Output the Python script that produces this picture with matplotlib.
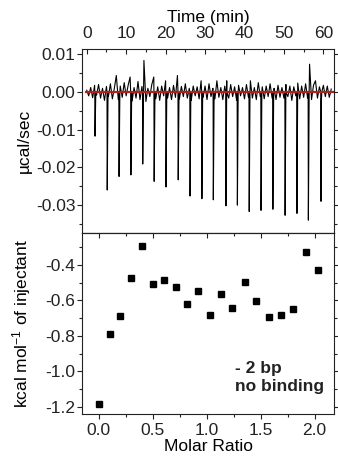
import numpy as np
import matplotlib
matplotlib.use('Agg')
import matplotlib.pyplot as plt
from matplotlib.ticker import MultipleLocator, FormatStrFormatter

plt.rcParams['font.family'] = ['Liberation Sans', 'DejaVu Sans']
plt.rcParams['mathtext.fontset'] = 'custom'
plt.rcParams['mathtext.rm'] = 'Liberation Sans'
plt.rcParams['mathtext.it'] = 'Liberation Sans'
plt.rcParams['axes.unicode_minus'] = False

# raw ITC trace (µcal/sec), baseline noise every 0.5 min, in units of 1e-3
step = 0.5
noise = [0.5, -1.0, 1.2, -1.5, 1.8, -0.8, 2.0, -1.6, 1.0, -2.2,
         1.5, -1.2, 2.2, -1.8, 1.0, 4.4, -2.0, 1.6, -1.4, 2.5,
         -1.0, 1.8, 4.0, -2.4, 1.2, -1.6, 2.8, -2.0, 1.5, 8.4,
         -2.5, 1.0, -1.2, 2.0, 4.0, -1.8, 1.4, -2.2, 1.6, -1.0,
         3.0, -1.6, 1.2, -2.0, 1.8, -1.4, 4.4, -1.8, 1.5, -1.2,
         2.2, -1.6, 1.0, -2.2, 1.6, -1.0, 1.4, -1.8, 3.0, -1.4,
         1.6, -2.0, 2.2, -1.2, 1.0, -1.8, 3.0, -1.4, 1.2, -2.0,
         1.6, 3.0, -1.6, 2.0, -1.2, 1.4, -2.2, 1.8, -1.0, 1.2,
         -1.8, 2.0, -1.4, 3.0, -1.6, 1.2, -2.0, 2.5, -1.2, 1.4,
         -1.8, 1.6, -1.2, 2.2, -1.6, 1.0, -2.0, 1.8, -1.4, 1.2,
         -1.6, 2.0, -1.2, 1.6, -2.2, 1.4, -1.0, 2.4, -1.8, 1.6,
         -1.4, 2.2, -1.6, 7.4, -2.0, 1.8, 3.0, -1.6, 1.4, -2.2,
         1.8, -1.2, 1.6, -1.4, 0.8]

# injection times (min) and peak heats (µcal/sec)
inj_t = [2.1, 5.2, 8.2, 11.2, 14.2, 17.1, 20.1, 23.2, 26.2, 29.2,
         32.1, 35.3, 38.2, 41.2, 44.2, 47.2, 50.3, 53.3, 56.2, 59.4]
inj_h = [-0.0117, -0.0260, -0.0224, -0.0220, -0.0191, -0.0237, -0.0252, -0.0233, -0.0276, -0.0283,
         -0.0286, -0.0302, -0.0300, -0.0317, -0.0314, -0.0311, -0.0327, -0.0322, -0.0340, -0.0290]

# integrated heats
molar_ratio = [0.003, 0.102, 0.200, 0.303, 0.404, 0.506, 0.608, 0.713, 0.818, 0.923,
               1.028, 1.133, 1.238, 1.355, 1.460, 1.577, 1.685, 1.800, 1.917, 2.034]
heat = [-1.185, -0.790, -0.688, -0.475, -0.291, -0.507, -0.485, -0.526, -0.622, -0.545,
        -0.681, -0.566, -0.645, -0.498, -0.603, -0.692, -0.681, -0.651, -0.327, -0.426]


def style(ax):
    for s in ax.spines.values():
        s.set_linewidth(0.8)
        s.set_color('#222222')
    ax.tick_params(which='both', direction='out', colors='#222222', labelsize=12.5, width=0.8)
    ax.tick_params(which='major', length=3.6)
    ax.tick_params(which='minor', length=2.2)
    ax.tick_params(axis='y', which='both', pad=1)


def main():
    t_noise = np.arange(len(noise)) * step
    y_noise = np.array(noise) * 1e-3
    it = np.array(inj_t)
    t_all = np.concatenate([t_noise, it - 0.06, it, it + 0.2])
    y_all = np.concatenate([y_noise, np.zeros(len(it)), np.array(inj_h), np.zeros(len(it))])
    order = np.argsort(t_all)

    fig = plt.figure(figsize=(3.38, 4.63), dpi=100)
    ax1 = fig.add_axes([0.2426, 0.4968, 0.7456, 0.3963])
    ax2 = fig.add_axes([0.2426, 0.1052, 0.7456, 0.3916])

    ax1.plot(t_all[order], y_all[order], color='black', lw=0.8)
    ax1.plot([-0.2, 62.5], [0, 0], color='#b02020', lw=1.6)
    ax1.set_xlim(-1.2, 62.7)
    ax1.set_ylim(-0.0374, 0.0113)
    style(ax1)
    ax1.xaxis.tick_top()
    ax1.xaxis.set_label_position('top')
    ax1.xaxis.set_major_locator(MultipleLocator(10))
    ax1.xaxis.set_minor_locator(MultipleLocator(5))
    ax1.tick_params(axis='x', which='both', direction='in', bottom=False, top=True, pad=6)
    ax1.set_xlabel('Time (min)', fontsize=12.5, labelpad=3)
    ax1.yaxis.set_major_locator(MultipleLocator(0.01))
    ax1.yaxis.set_minor_locator(MultipleLocator(0.005))
    ax1.yaxis.set_major_formatter(FormatStrFormatter('%.2f'))
    ax1.tick_params(axis='y', which='both', right=True)
    ax1.set_ylabel('µcal/sec', fontsize=12.5)
    ax1.yaxis.set_label_coords(-0.2, 0.5)

    ax2.plot(molar_ratio, heat, 's', color='black', markersize=4.5)
    ax2.set_xlim(-0.155, 2.18)
    ax2.set_ylim(-1.243, -0.219)
    style(ax2)
    ax2.xaxis.set_major_locator(MultipleLocator(0.5))
    ax2.xaxis.set_minor_locator(MultipleLocator(0.25))
    ax2.xaxis.set_major_formatter(FormatStrFormatter('%.1f'))
    ax2.tick_params(axis='x', which='both', pad=2.5)
    ax2.yaxis.set_major_locator(MultipleLocator(0.2))
    ax2.yaxis.set_minor_locator(MultipleLocator(0.1))
    ax2.yaxis.set_major_formatter(FormatStrFormatter('%.1f'))
    ax2.tick_params(axis='y', which='both', right=True)
    top = ax2.secondary_xaxis('top')
    top.xaxis.set_major_locator(MultipleLocator(0.5))
    top.xaxis.set_minor_locator(MultipleLocator(0.25))
    top.tick_params(which='both', direction='in', labeltop=False, colors='#222222', width=0.8)
    top.tick_params(which='major', length=3.6)
    top.tick_params(which='minor', length=2.2)
    top.spines['top'].set_linewidth(0.8)
    ax2.set_xlabel('Molar Ratio', fontsize=12.5, labelpad=1)
    ax2.set_ylabel(r'kcal mol$^{\mathregular{-1}}$ of injectant', fontsize=12.5)
    ax2.yaxis.set_label_coords(-0.195, 0.5)
    ax2.text(1.26, -1.035, '- 2 bp\nno binding', fontsize=12.5, fontweight='bold',
             ha='left', va='center', color='#222222')

    fig.savefig('out.png', dpi=100)


if __name__ == "__main__":
    main()
